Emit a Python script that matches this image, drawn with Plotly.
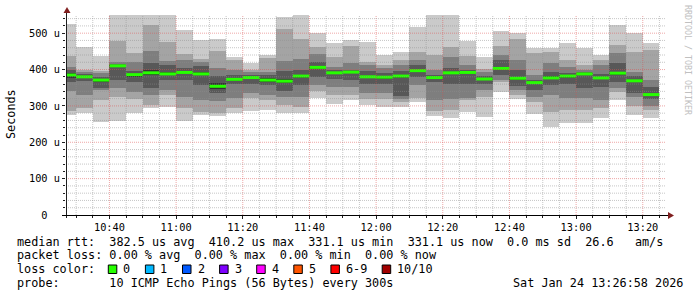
import plotly.graph_objects as go
import pandas as pd

# ---------------- data ----------------
bar_start = pd.date_range("2026-01-24 10:25", periods=36, freq="5min")
step_ms = 300000

ping1 = [275,281,257,258,281,295,298,258,275,272,280,285,289,281,281,321,305,315,303,298,298,312,272,266,284,270,339,320,278,243,252,252,268,315,274,266]
ping2 = [285,293,317,325,318,302,330,295,284,280,293,321,316,303,298,340,330,330,318,318,312,321,285,289,316,325,367,330,310,284,289,289,294,339,300,290]
ping3 = [340,330,344,348,339,330,345,325,316,314,321,335,330,325,324,358,353,353,336,336,318,358,316,320,321,345,370,344,325,330,321,321,316,348,325,300]
ping4 = [367,368,350,370,367,350,371,371,358,335,360,360,358,340,358,380,375,371,360,360,327,380,366,360,360,360,385,355,344,358,360,349,353,367,335,320]
ping5 = [378,376,367,407,380,386,384,388,385,347,369,374,367,363,378,402,388,390,376,375,378,394,374,387,389,370,399,372,361,373,378,385,374,385,366,328]
ping6 = [390,383,375,412,389,398,392,396,392,363,376,382,376,373,386,410,394,396,383,383,386,400,381,394,395,378,406,380,367,381,385,391,380,394,372,334]
ping7 = [400,388,380,415,395,418,413,405,410,381,385,386,385,395,400,420,398,399,395,390,395,413,385,403,400,383,425,399,372,394,390,393,389,417,381,352]
ping8 = [408,393,390,421,421,452,424,426,422,403,400,392,394,424,428,444,408,419,413,404,413,426,400,435,413,392,440,426,385,417,408,400,413,445,394,371]
ping9 = [437,400,397,479,446,522,477,444,428,452,426,400,431,511,483,463,435,465,422,413,426,449,440,463,438,401,465,483,445,449,426,413,426,468,449,454]
ping10 = [525,463,437,560,560,560,560,509,481,484,435,417,440,545,560,500,474,481,477,440,449,518,560,560,478,435,506,500,460,458,474,458,440,523,500,474]
median = [385,380,371,410.2,386,391,388,392,388,354,373,378,371,368,382,406,391,393,380,379,382,397,378,391,392,374,403,376,364,377,382,388,377,390,369,331.1]

x_start, x_end = "2026-01-24 10:26:58", "2026-01-24 13:26:58"
y_max = 550
y_tickvals = [0, 100, 200, 300, 400, 500]
y_ticktext = ["0\u00a0\u00a0", "100 u", "200 u", "300 u", "400 u", "500 u"]
y_minor_step = 20
y_major_step = 100
x_major_min = 20

loss_labels = ["0", "1", "2", "3", "4", "5", "6-9", "10/10"]
loss_colors = ["#26ff00", "#00b8ff", "#0059ff", "#7e00ff", "#ff00ff", "#ff5500", "#ff0000", "#a10000"]

legend_lines = [
    "median rtt:  382.5 us avg  410.2 us max  331.1 us min  331.1 us now  0.0 ms sd  26.6   am/s",
    "packet loss: 0.00 % avg  0.00 % max  0.00 % min  0.00 % now",
    "loss color:",
    "probe:       10 ICMP Echo Pings (56 Bytes) every 300s",
]
stamp = "Sat Jan 24 13:26:58 2026"

# ---------------- geometry helpers ----------------
W, H = 697, 297
L, R, T, B = 66, 31, 15, 82
PW, PH = W - L - R, H - T - B


def px(x):
    return (x - L) / PW


def py(y):
    return (H - B - y) / PH


MONO = "DejaVu Sans Mono"
shades = ["#cacaca", "#a4a4a4", "#7e7e7e", "#585858", "#323232"]
ranks = [ping1, ping2, ping3, ping4, ping5, ping6, ping7, ping8, ping9, ping10]
centers = bar_start + pd.Timedelta(milliseconds=step_ms / 2)

fig = go.Figure()
for i in range(5):
    lo = ranks[i]
    hi = ranks[9 - i]
    fig.add_trace(go.Bar(
        x=centers, base=lo, y=[h - l for h, l in zip(hi, lo)],
        width=step_ms, marker=dict(color=shades[i], line=dict(width=0)),
        hoverinfo="skip", showlegend=False))

xs, ys = [], []
for s, m in zip(bar_start, median):
    xs += [s, s + pd.Timedelta(milliseconds=step_ms), None]
    ys += [m, m, None]
fig.add_trace(go.Scatter(x=xs, y=ys, mode="lines",
                         line=dict(color=loss_colors[0], width=3),
                         hoverinfo="skip", showlegend=False))

grid_minor = "rgba(143,143,143,0.5)"
grid_major = "rgba(222,79,79,0.5)"
dash = "1px,1px"

fig.update_layout(
    width=W, height=H,
    margin=dict(l=L, r=R, t=T, b=B, pad=0),
    paper_bgcolor="white", plot_bgcolor="white",
    barmode="overlay", bargap=0,
    showlegend=False,
    xaxis=dict(
        type="date", range=[x_start, x_end],
        tick0="2026-01-24 10:40", dtick=x_major_min * 60000, tickformat="%H:%M",
        showgrid=False,
        ticks="outside", ticklen=3, tickcolor="#1f1f1f", tickwidth=1,
        tickfont=dict(family=MONO, size=10.3, color="black"),
        minor=dict(tick0="2026-01-24 10:40", dtick=step_ms, showgrid=False,
                   ticks="outside", ticklen=2, tickcolor="#1f1f1f"),
        zeroline=False, showline=False, fixedrange=True,
    ),
    yaxis=dict(
        range=[0, y_max],
        tickmode="array", tickvals=y_tickvals, ticktext=y_ticktext,
        showgrid=False,
        ticks="outside", ticklen=3, tickcolor="#1f1f1f", tickwidth=1,
        tickfont=dict(family=MONO, size=10.3, color="black"),
        minor=dict(tickmode="linear", tick0=0, dtick=y_minor_step, showgrid=False,
                   ticks="outside", ticklen=2, tickcolor="#1f1f1f"),
        zeroline=False, showline=False, fixedrange=True,
    ),
)

shapes = []
# grid drawn above the smoke, like rrdtool
grid_times = pd.date_range("2026-01-24 10:30", x_end, freq="5min")
for t in grid_times:
    major = (t.minute % x_major_min == 0)
    shapes.append(dict(type="line", xref="x", yref="paper", x0=t, x1=t, y0=0, y1=1,
                       layer="above",
                       line=dict(color=grid_major if major else grid_minor, width=1, dash=dash)))
for v in range(y_minor_step, y_max, y_minor_step):
    major = (v % y_major_step == 0)
    shapes.append(dict(type="line", xref="paper", yref="y", x0=0, x1=1, y0=v, y1=v,
                       layer="above",
                       line=dict(color=grid_major if major else grid_minor, width=1, dash=dash)))

axis_col = "#1f1f1f"
arrow_col = "#801f1f"
# y axis line + arrow
shapes.append(dict(type="line", xref="paper", yref="paper",
                   x0=px(66.5), x1=px(66.5), y0=py(218), y1=py(11),
                   line=dict(color=axis_col, width=1)))
shapes.append(dict(type="path", xref="paper", yref="paper",
                   path=f"M {px(63.5)},{py(13)} L {px(67)},{py(7)} L {px(70.5)},{py(13)} Z",
                   fillcolor=arrow_col, line=dict(color=arrow_col, width=0)))
# x axis line + arrow
shapes.append(dict(type="line", xref="paper", yref="paper",
                   x0=px(62), x1=px(669), y0=py(215.5), y1=py(215.5),
                   line=dict(color="black", width=1)))
shapes.append(dict(type="path", xref="paper", yref="paper",
                   path=f"M {px(668)},{py(212)} L {px(674)},{py(215.5)} L {px(668)},{py(219)} Z",
                   fillcolor=arrow_col, line=dict(color=arrow_col, width=0)))

annotations = []
line_y = [241.5, 255.0, 269.0, 283.0]
for txt, yy in zip(legend_lines, line_y):
    annotations.append(dict(
        text=txt.replace(" ", "\u00a0"), xref="paper", yref="paper",
        x=px(16), y=py(yy), xanchor="left", yanchor="middle",
        showarrow=False, borderpad=0,
        font=dict(family=MONO, size=11.8, color="black")))
annotations.append(dict(
    text=stamp.replace(" ", "\u00a0"), xref="paper", yref="paper",
    x=px(684), y=py(283.0), xanchor="right", yanchor="middle",
    showarrow=False, borderpad=0,
    font=dict(family=MONO, size=11.8, color="black")))

box_x = [108.3, 145.4, 182.5, 219.6, 256.7, 293.8, 330.9, 382.2]
for bx, lab, col in zip(box_x, loss_labels, loss_colors):
    shapes.append(dict(type="rect", xref="paper", yref="paper",
                       x0=px(bx), x1=px(bx + 8.5), y0=py(273.5), y1=py(265),
                       fillcolor=col, line=dict(color="black", width=1)))
    annotations.append(dict(
        text=lab, xref="paper", yref="paper",
        x=px(bx + 14), y=py(269.0), xanchor="left", yanchor="middle",
        showarrow=False, borderpad=0,
        font=dict(family=MONO, size=11.8, color="black")))

annotations.append(dict(
    text="Seconds", xref="paper", yref="paper",
    x=px(11), y=py(114), xanchor="center", yanchor="middle",
    textangle=-90, showarrow=False, borderpad=0,
    font=dict(family=MONO, size=11.8, color="black")))
annotations.append(dict(
    text="RRDTOOL / TOBI OETIKER".replace(" ", "\u00a0"), xref="paper", yref="paper",
    x=px(688), y=py(60), xanchor="center", yanchor="middle",
    textangle=90, showarrow=False, borderpad=0,
    font=dict(family=MONO, size=8.3, color="#c0c0c0")))

fig.update_layout(shapes=shapes, annotations=annotations)
fig.write_html("out.html", config={"displayModeBar": False})
